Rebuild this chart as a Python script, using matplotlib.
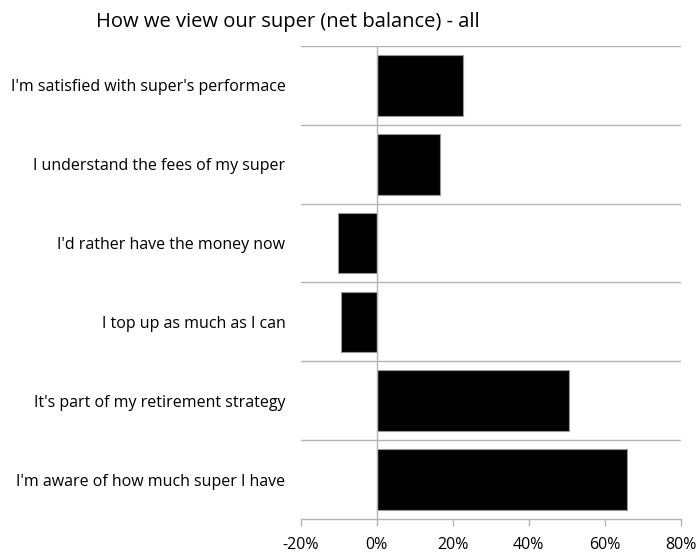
import matplotlib
matplotlib.use("Agg")
import matplotlib.pyplot as plt
from matplotlib.ticker import FixedLocator, FuncFormatter

categories = [
    "I'm satisfied with super's performace",
    "I understand the fees of my super",
    "I'd rather have the money now",
    "I top up as much as I can",
    "It's part of my retirement strategy",
    "I'm aware of how much super I have",
]
net_balance = [22.6, 16.6, -10.1, -9.4, 50.7, 65.9]
x_ticks = [-20, 0, 20, 40, 60, 80]
title = "How we view our super (net balance) - all"

plt.rcParams["font.family"] = ["Open Sans", "DejaVu Sans"]
grid_color = "#b4b4b4"

fig = plt.figure(figsize=(6.98, 5.54), dpi=100)
ax = fig.add_axes([0.4308, 0.0632, 0.5444, 0.8538])

ypos = list(range(len(categories)))
ax.barh(ypos, net_balance, height=0.77, color="black",
        edgecolor="#999999", linewidth=0.8, zorder=3)

ax.set_xlim(-20, 80)
ax.set_ylim(len(categories) - 0.5, -0.5)

# separators between categories
for b in [i - 0.5 for i in range(len(categories))]:
    ax.axhline(b, color=grid_color, linewidth=1.0, zorder=1)
ax.axvline(0, color=grid_color, linewidth=1.0, zorder=4)

for s in ["top", "left", "right"]:
    ax.spines[s].set_visible(False)
ax.spines["bottom"].set_color(grid_color)
ax.spines["bottom"].set_linewidth(1.0)

ax.xaxis.set_major_locator(FixedLocator(x_ticks))
ax.xaxis.set_major_formatter(FuncFormatter(lambda v, p: f"{v:.0f}%"))
ax.tick_params(axis="x", direction="out", length=5, width=1.0,
               color=grid_color, labelsize=11.5, labelcolor="black", pad=8)

ax.set_yticks(ypos)
ax.set_yticklabels(categories)
ax.tick_params(axis="y", length=0, labelsize=11.5, labelcolor="black", pad=11)

fig.text(0.1375, 0.96, title, fontsize=14.5, ha="left", va="center", color="black")

fig.savefig("out.png", dpi=100)
